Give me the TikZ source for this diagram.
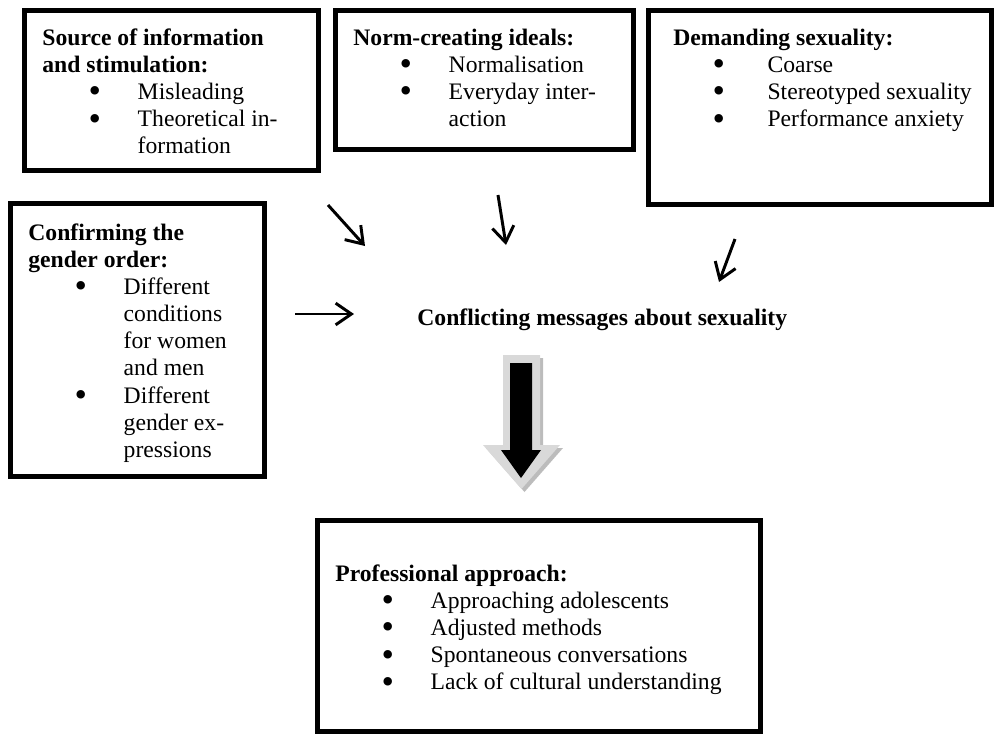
\documentclass[tikz,border=0pt]{standalone}
\usepackage{fontspec}
\setmainfont{Liberation Serif}
\usetikzlibrary{arrows.meta}
\usetikzlibrary{fit}

\definecolor{arrowgrey}{RGB}{217,217,217}
\definecolor{shadowgrey}{RGB}{188,188,188}

% bullet line and its continuation (optional shift of the indent)
\newcommand{\bigbul}{\raisebox{-1.8pt}{\scalebox{1.5}{\textbullet}}}
\newcommand{\bulitem}[1][0pt]{\hspace*{\dimexpr26.6pt+#1\relax}\makebox[0pt]{\bigbul}\hspace*{21.8pt}}
\newcommand{\bulcont}[1][0pt]{\hspace*{\dimexpr48.4pt+#1\relax}}
\newcommand{\boxlines}[1]{\begin{tabular}[t]{@{}l@{}}#1\end{tabular}}

\begin{document}
\begin{tikzpicture}[x=0.5076pt, y=-0.5076pt,
    every node/.style={inner sep=0pt},
    box/.style={draw, line width=2.5pt},
    txt/.style={anchor=base west, font={\fontsize{12}{13.8}\selectfont}},
    thinarrow/.style={line width=1.5pt, -{Straight Barb[length=8pt, width=11pt]}}]
    \useasboundingbox (0,0) rectangle (996,736);

    % boxes
    \node[box, fit={(24.5,10.5) (318.5,170.5)}]  (src)  {};
    \node[box, fit={(335.5,10.5) (633.5,149.5)}] (norm) {};
    \node[box, fit={(648.5,10.5) (991.5,204.5)}] (dem)  {};
    \node[box, fit={(10.5,203.5) (264.5,476.5)}] (gen)  {};
    \node[box, fit={(317.5,520.5) (760.5,731.5)}] (prof) {};

    % box texts
    \node[txt] (srctxt) at (42,45) {\boxlines{\textbf{Source of information}\\
        \textbf{and stimulation:}\\ \bulitem Misleading\\ \bulitem Theoretical in-\\
        \bulcont formation}};
    \node[txt] (normtxt) at (353,45) {\boxlines{\textbf{Norm-creating ideals:}\\
        \bulitem Normalisation\\ \bulitem Everyday inter-\\ \bulcont action}};
    \node[txt] (demtxt) at (673,45) {\boxlines{\textbf{Demanding sexuality:}\\
        \bulitem[-3.6pt] Coarse\\ \bulitem[-3.6pt] Stereotyped sexuality\\
        \bulitem[-3.6pt] Performance anxiety}};
    \node[txt] (gentxt) at (28,240) {\boxlines{\textbf{Confirming the}\\
        \textbf{gender order:}\\ \bulitem Different\\ \bulcont conditions\\
        \bulcont for women\\ \bulcont and men\\ \bulitem Different\\
        \bulcont gender ex-\\ \bulcont pressions}};
    \node[txt] (proftxt) at (335,581) {\boxlines{\textbf{Professional approach:}\\
        \bulitem Approaching adolescents\\ \bulitem Adjusted methods\\
        \bulitem Spontaneous conversations\\ \bulitem Lack of cultural understanding}};

    \node[txt, font={\fontsize{12}{13.8}\selectfont\bfseries}] (msg) at (417,325)
        {Conflicting messages about sexuality};

    % small arrows
    \coordinate (srcout) at (328,205);
    \coordinate (srcin)  at (365,246);
    \coordinate (normout) at (498,195);
    \coordinate (normin)  at (506,245);
    \coordinate (demout) at (735,239);
    \coordinate (demin)  at (719,282);
    \coordinate (genout) at (295,314);
    \coordinate (genin)  at (354,314);
    \draw[thinarrow] (srcout) -- (srcin);
    \draw[thinarrow] (normout) -- (normin);
    \draw[thinarrow] (demout) -- (demin);
    \draw[thinarrow] (genout) -- (genin);

    % block arrow to the professional approach
    \fill[shadowgrey, shift={(3,3)}] (503,355) -- (540,355) -- (540,445) -- (560,445)
        -- (521.5,489) -- (483,445) -- (503,445) -- cycle;
    \fill[arrowgrey] (503,355) -- (540,355) -- (540,445) -- (560,445)
        -- (521.5,489) -- (483,445) -- (503,445) -- cycle;
    \fill[black] (510,363) -- (532,363) -- (532,450) -- (541,450)
        -- (521,478) -- (501,450) -- (510,450) -- cycle;
\end{tikzpicture}
\end{document}
